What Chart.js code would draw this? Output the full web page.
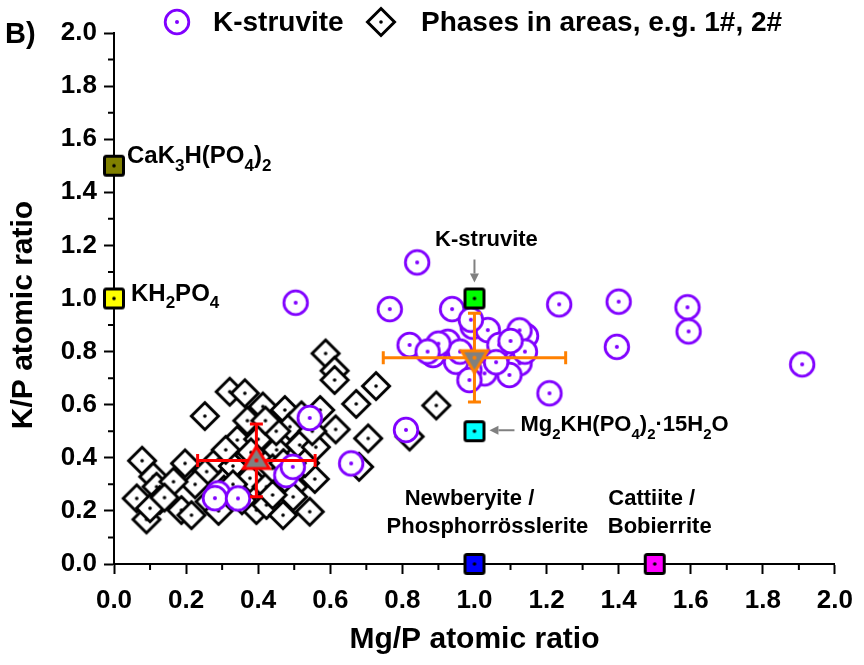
<!DOCTYPE html>
<html>
<head>
<meta charset="utf-8">
<script src="https://cdn.jsdelivr.net/npm/chart.js@4.4.0/dist/chart.umd.min.js"></script>
<style>
  html, body { margin: 0; padding: 0; background: #fff; }
</style>
</head>
<body>
<canvas id="myScatter" width="864" height="665"></canvas>
<script>
// K-struvite points (Mg/P, K/P)
var ksX = [0.504, 0.841, 0.765, 0.938, 1.235, 1.400, 1.395, 1.591, 1.594, 1.909,
           1.208, 0.810, 0.658, 0.543, 0.478, 0.496, 0.289, 0.280, 0.344,
           0.820, 0.885, 0.926, 0.995, 1.037, 1.069, 1.143, 1.125, 1.125, 1.097,
           1.028, 0.986, 0.949, 0.986, 1.060, 0.960, 1.140, 0.900, 0.990, 1.100, 0.870];
var ksY = [0.984, 1.136, 0.960, 0.960, 0.978, 0.988, 0.818, 0.967, 0.876, 0.752,
           0.643, 0.505, 0.379, 0.550, 0.335, 0.366, 0.266, 0.248, 0.247,
           0.825, 0.787, 0.837, 0.894, 0.881, 0.825, 0.859, 0.880, 0.756, 0.712,
           0.718, 0.731, 0.762, 0.693, 0.760, 0.800, 0.800, 0.830, 0.920, 0.840, 0.800];

// phases in areas (Mg/P, K/P)
var phX = [0.078, 0.063, 0.090, 0.109, 0.118, 0.127, 0.100, 0.187, 0.215, 0.197,
           0.252, 0.257, 0.289, 0.321, 0.363, 0.342, 0.330, 0.377, 0.395, 0.423,
           0.413, 0.474, 0.488, 0.515, 0.451, 0.557, 0.497, 0.497, 0.543, 0.423,
           0.469, 0.587, 0.612, 0.612, 0.727, 0.672, 0.572, 0.615, 0.705, 0.680,
           0.820, 0.894, 0.355, 0.305, 0.440, 0.400, 0.450, 0.530, 0.370, 0.310,
           0.225, 0.265, 0.165, 0.560, 0.420, 0.520, 0.380, 0.470, 0.290, 0.440,
           0.550, 0.330, 0.140];
var phY = [0.389, 0.247, 0.168, 0.329, 0.291, 0.241, 0.210, 0.203, 0.184, 0.379,
           0.557, 0.348, 0.394, 0.649, 0.643, 0.467, 0.369, 0.323, 0.203, 0.291,
           0.593, 0.580, 0.517, 0.448, 0.430, 0.320, 0.291, 0.253, 0.197, 0.222,
           0.184, 0.793, 0.728, 0.693, 0.670, 0.603, 0.580, 0.507, 0.473, 0.366,
           0.480, 0.597, 0.240, 0.280, 0.360, 0.470, 0.500, 0.380, 0.540, 0.430,
           0.300, 0.235, 0.310, 0.440, 0.540, 0.560, 0.420, 0.380, 0.200, 0.260,
           0.500, 0.300, 0.250];

// reference compounds
var refX = [0, 0, 1.0, 1.0, 1.0, 1.5];
var refY = [1.5, 1.0, 1.0, 0.5, 0, 0];
var refColors = ['#808000', '#FFFF00', '#00FF00', '#00FFFF', '#0000FF', '#FF00FF'];

// averages with standard deviations
var meanX = [0.395, 1.0];
var meanY = [0.39, 0.777];
var meanErrX = [0.163, 0.253];
var meanErrY = [0.137, 0.167];
var meanColors = ['#FF0000', '#FF8000'];

var axisTicks = [0, 0.2, 0.4, 0.6, 0.8, 1.0, 1.2, 1.4, 1.6, 1.8, 2.0];
var minorTicks = [0.1, 0.3, 0.5, 0.7, 0.9, 1.1, 1.3, 1.5, 1.7, 1.9];

var purple = '#8000FF';
var FONT = '"Liberation Sans", Arial, sans-serif';
Chart.defaults.font.family = FONT;

function toPts(xs, ys) {
  return xs.map(function (x, i) { return { x: x, y: ys[i] }; });
}

// marker images
function markerCanvas(draw) {
  var c = document.createElement('canvas');
  c.width = 44; c.height = 44;
  var g = c.getContext('2d');
  g.translate(22, 22);
  draw(g);
  return c;
}
function dot(g, color, r) {
  g.fillStyle = color;
  g.beginPath(); g.arc(0, 0, r, 0, Math.PI * 2); g.fill();
}

var circleMark = markerCanvas(function (g) {
  g.beginPath(); g.arc(0, 0, 11.8, 0, Math.PI * 2);
  g.fillStyle = '#fff'; g.fill();
  g.lineWidth = 2.8; g.strokeStyle = purple; g.stroke();
  dot(g, purple, 2);
});

var diamondMark = markerCanvas(function (g) {
  g.beginPath();
  g.moveTo(0, -13.5); g.lineTo(13.5, 0); g.lineTo(0, 13.5); g.lineTo(-13.5, 0);
  g.closePath();
  g.fillStyle = '#fff'; g.fill();
  g.lineWidth = 3; g.strokeStyle = '#000'; g.stroke();
  dot(g, '#000', 1.8);
});

var refMarks = refColors.map(function (col) {
  return markerCanvas(function (g) {
    g.beginPath();
    g.roundRect(-9.5, -9.5, 19, 19, 2);
    g.fillStyle = col; g.fill();
    g.lineWidth = 3; g.strokeStyle = '#000'; g.stroke();
    dot(g, '#000', 1.8);
  });
});

var meanMarks = [
  markerCanvas(function (g) {
    g.beginPath(); g.moveTo(0, -14); g.lineTo(13, 8); g.lineTo(-13, 8); g.closePath();
    g.fillStyle = '#808080'; g.fill();
    g.lineWidth = 3; g.strokeStyle = meanColors[0]; g.stroke();
    dot(g, meanColors[0], 2);
  }),
  markerCanvas(function (g) {
    g.beginPath(); g.moveTo(0, 15); g.lineTo(13, -7); g.lineTo(-13, -7); g.closePath();
    g.fillStyle = '#808080'; g.fill();
    g.lineWidth = 3; g.strokeStyle = meanColors[1]; g.stroke();
    dot(g, meanColors[1], 2);
  })
];

// text with subscripts: parts = [[text, isSub], ...]
function drawRich(ctx, parts, x, y, size, align) {
  var sub = Math.round(size * 0.7);
  var w = 0;
  parts.forEach(function (p) {
    ctx.font = 'bold ' + (p[1] ? sub : size) + 'px ' + FONT;
    w += ctx.measureText(p[0]).width;
  });
  var cx = align === 'center' ? x - w / 2 : x;
  ctx.textAlign = 'left';
  ctx.textBaseline = 'alphabetic';
  ctx.fillStyle = '#000';
  parts.forEach(function (p) {
    ctx.font = 'bold ' + (p[1] ? sub : size) + 'px ' + FONT;
    ctx.fillText(p[0], cx, y + (p[1] ? size * 0.33 : 0));
    cx += ctx.measureText(p[0]).width;
  });
}

function arrow(ctx, x1, y1, x2, y2) {
  var a = Math.atan2(y2 - y1, x2 - x1);
  var hl = 9, hw = 4.5;
  var bx = x2 - hl * Math.cos(a), by = y2 - hl * Math.sin(a);
  ctx.strokeStyle = '#808080'; ctx.fillStyle = '#808080'; ctx.lineWidth = 2;
  ctx.beginPath(); ctx.moveTo(x1, y1); ctx.lineTo(bx, by); ctx.stroke();
  ctx.beginPath();
  ctx.moveTo(x2, y2);
  ctx.lineTo(bx - hw * Math.sin(a), by + hw * Math.cos(a));
  ctx.lineTo(bx + hw * Math.sin(a), by - hw * Math.cos(a));
  ctx.closePath(); ctx.fill();
}

// error bars under the mean triangles
var errorBars = {
  id: 'errorBars',
  beforeDatasetDraw: function (chart, args) {
    if (chart.data.datasets[args.index].label !== 'Mean') return;
    var xs = chart.scales.x, ys = chart.scales.y, ctx = chart.ctx;
    var cap = 6.5;
    ctx.save();
    ctx.lineWidth = 3;
    meanX.forEach(function (mx, i) {
      var cx = xs.getPixelForValue(mx), cy = ys.getPixelForValue(meanY[i]);
      var x1 = xs.getPixelForValue(mx - meanErrX[i]), x2 = xs.getPixelForValue(mx + meanErrX[i]);
      var y1 = ys.getPixelForValue(meanY[i] + meanErrY[i]), y2 = ys.getPixelForValue(meanY[i] - meanErrY[i]);
      ctx.strokeStyle = meanColors[i];
      ctx.beginPath();
      ctx.moveTo(x1, cy); ctx.lineTo(x2, cy);
      ctx.moveTo(cx, y1); ctx.lineTo(cx, y2);
      ctx.moveTo(x1, cy - cap); ctx.lineTo(x1, cy + cap);
      ctx.moveTo(x2, cy - cap); ctx.lineTo(x2, cy + cap);
      ctx.moveTo(cx - cap, y1); ctx.lineTo(cx + cap, y1);
      ctx.moveTo(cx - cap, y2); ctx.lineTo(cx + cap, y2);
      ctx.stroke();
    });
    ctx.restore();
  }
};

// minor ticks, legend, labels and arrows
var decorations = {
  id: 'decorations',
  beforeDatasetsDraw: function (chart) {
    var ctx = chart.ctx, xs = chart.scales.x, ys = chart.scales.y, a = chart.chartArea;
    ctx.save();
    ctx.strokeStyle = '#000'; ctx.lineWidth = 2;
    ctx.beginPath();
    minorTicks.forEach(function (v) {
      var px = xs.getPixelForValue(v);
      ctx.moveTo(px, a.bottom); ctx.lineTo(px, a.bottom + 6);
      var py = ys.getPixelForValue(v);
      ctx.moveTo(a.left, py); ctx.lineTo(a.left - 6, py);
    });
    ctx.stroke();
    ctx.restore();
  },
  afterDraw: function (chart) {
    var ctx = chart.ctx, xs = chart.scales.x, ys = chart.scales.y, a = chart.chartArea;
    ctx.save();

    // panel letter
    ctx.fillStyle = '#000';
    ctx.font = 'bold 29px ' + FONT;
    ctx.textAlign = 'left'; ctx.textBaseline = 'middle';
    ctx.fillText('B)', 5, 35);

    // y axis title
    ctx.save();
    ctx.translate(24, 315);
    ctx.rotate(-Math.PI / 2);
    ctx.font = 'bold 30px ' + FONT;
    ctx.textAlign = 'center'; ctx.textBaseline = 'middle';
    ctx.fillText('K/P atomic ratio', 0, 0);
    ctx.restore();

    // legend
    ctx.drawImage(circleMark, 177 - 22, 22 - 22);
    ctx.drawImage(diamondMark, 381 - 22, 22 - 22);
    ctx.font = 'bold 28px ' + FONT;
    ctx.textAlign = 'left'; ctx.textBaseline = 'middle';
    ctx.fillStyle = '#000';
    ctx.fillText(chart.data.datasets[1].label, 213, 23);
    ctx.fillText(chart.data.datasets[0].label, 421, 23);

    // compound labels, anchored on the reference points
    var x0 = xs.getPixelForValue(0), x1 = xs.getPixelForValue(1), x15 = xs.getPixelForValue(1.5);
    var y15 = ys.getPixelForValue(1.5), y1 = ys.getPixelForValue(1), y05 = ys.getPixelForValue(0.5), y0 = ys.getPixelForValue(0);

    drawRich(ctx, [['CaK', 0], ['3', 1], ['H(PO', 0], ['4', 1], [')', 0], ['2', 1]], x0 + 13, y15 - 3, 24);
    drawRich(ctx, [['KH', 0], ['2', 1], ['PO', 0], ['4', 1]], x0 + 17, y1 + 2, 24);
    drawRich(ctx, [['K-struvite', 0]], x1 + 12, y1 - 53, 22, 'center');
    arrow(ctx, x1, y1 - 39, x1, y1 - 16);
    drawRich(ctx, [['Mg', 0], ['2', 1], ['KH(PO', 0], ['4', 1], [')', 0], ['2', 1], ['\u00b715H', 0], ['2', 1], ['O', 0]], x1 + 46, y05, 22);
    arrow(ctx, x1 + 40, y05 - 1, x1 + 15, y05 - 1);
    drawRich(ctx, [['Newberyite /', 0]], x1 - 5, y0 - 59, 22, 'center');
    drawRich(ctx, [['Phosphorr\u00f6sslerite', 0]], x1 + 13, y0 - 31, 22, 'center');
    drawRich(ctx, [['Cattiite /', 0]], x15 - 3, y0 - 59, 22, 'center');
    drawRich(ctx, [['Bobierrite', 0]], x15 + 5, y0 - 31, 22, 'center');

    ctx.restore();
  }
};

var commonAxis = function (title) {
  return {
    type: 'linear',
    min: 0,
    max: 2,
    afterBuildTicks: function (scale) {
      scale.ticks = axisTicks.map(function (v) { return { value: v }; });
    },
    ticks: {
      callback: function (v) { return Number(v).toFixed(1); },
      font: { size: 26, weight: 'bold' },
      color: '#000',
      maxRotation: 0,
      autoSkip: false
    },
    grid: {
      drawOnChartArea: false,
      drawTicks: true,
      tickLength: 10,
      tickWidth: 2,
      tickColor: '#000'
    },
    border: { display: true, color: '#000', width: 2 },
    title: {
      display: !!title,
      text: title,
      color: '#000',
      font: { size: 30, weight: 'bold' },
      padding: { top: 0, bottom: 7 }
    }
  };
};

var xAxis = commonAxis('Mg/P atomic ratio');
xAxis.ticks.padding = 11;
xAxis.afterFit = function (scale) { scale.height = 101; };

var yAxis = commonAxis('');
yAxis.ticks.padding = 7;
yAxis.afterFit = function (scale) { scale.width = 114; };

var ctx = document.getElementById('myScatter').getContext('2d');
var chart = new Chart(ctx, {
  type: 'scatter',
  data: {
    datasets: [
      { label: 'Phases in areas, e.g. 1#, 2#', data: toPts(phX, phY), pointStyle: diamondMark, order: 4 },
      { label: 'K-struvite', data: toPts(ksX, ksY), pointStyle: circleMark, order: 3 },
      { label: 'Reference phases', data: toPts(refX, refY), pointStyle: refMarks, order: 2 },
      { label: 'Mean', data: toPts(meanX, meanY), pointStyle: meanMarks, order: 1 }
    ]
  },
  options: {
    responsive: false,
    animation: false,
    layout: { padding: { top: 33, right: 28, left: 0, bottom: 0 } },
    datasets: {
      scatter: { clip: false, pointRadius: 12, pointHoverRadius: 12 }
    },
    plugins: {
      legend: { display: false },
      tooltip: { enabled: false }
    },
    scales: { x: xAxis, y: yAxis }
  },
  plugins: [errorBars, decorations]
});
</script>
</body>
</html>
